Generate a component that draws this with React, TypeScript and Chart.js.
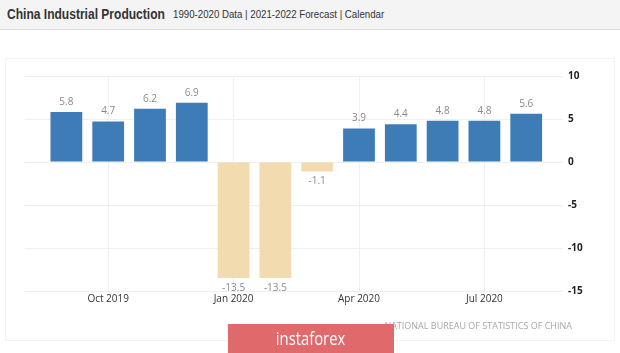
import React, { useEffect, useRef } from "react";
import { Chart, registerables } from "chart.js";

Chart.register(...registerables);

const months = [
  "Sep 2019", "Oct 2019", "Nov 2019", "Dec 2019",
  "Jan 2020", "Feb 2020", "Mar 2020", "Apr 2020",
  "May 2020", "Jun 2020", "Jul 2020", "Aug 2020",
];
const values = [5.8, 4.7, 6.2, 6.9, -13.5, -13.5, -1.1, 3.9, 4.4, 4.8, 4.8, 5.6];
const xTickIndexes = [1, 4, 7, 10];
const yTicks = [10, 5, 0, -5, -10, -15];

const BLUE = "#3d7cb6";
const SAND = "#f3dbb0";

const valueLabels = {
  id: "valueLabels",
  afterDatasetsDraw(chart: any) {
    const ctx = chart.ctx;
    const meta = chart.getDatasetMeta(0);
    ctx.save();
    ctx.font = "10px 'Open Sans'";
    ctx.fillStyle = "#8a8a8a";
    ctx.textAlign = "center";
    ctx.textBaseline = "middle";
    meta.data.forEach((el: any, i: number) => {
      const v = values[i];
      const y = v >= 0 ? el.y - 10 : el.y + 10;
      ctx.fillText(v.toFixed(1), el.x, y);
    });
    ctx.restore();
  },
};

export default function App() {
  const ref = useRef<HTMLCanvasElement | null>(null);

  useEffect(() => {
    if (!ref.current) return;
    const chart = new Chart(ref.current, {
      type: "bar",
      data: {
        datasets: [
          {
            data: values.map((v, i) => ({ x: i, y: v })),
            backgroundColor: values.map((v) => (v >= 0 ? BLUE : SAND)),
            borderWidth: 0,
            categoryPercentage: 1,
            barPercentage: 0.76,
          },
        ],
      },
      options: {
        animation: false,
        responsive: false,
        maintainAspectRatio: false,
        devicePixelRatio: 1,
        layout: { padding: { left: 25, top: 76, right: 0, bottom: 0 } },
        plugins: { legend: { display: false }, tooltip: { enabled: false } },
        scales: {
          x: {
            type: "linear",
            min: -0.99,
            max: 11.88,
            offset: false,
            grid: { offset: false, color: "#efefef", drawTicks: false },
            border: { display: false },
            afterBuildTicks: (scale: any) => {
              scale.ticks = xTickIndexes.map((v) => ({ value: v }));
            },
            afterFit: (scale: any) => {
              scale.height = 62;
            },
            ticks: {
              padding: 2,
              autoSkip: false,
              maxRotation: 0,
              color: "#333",
              font: { family: "'Open Sans'", size: 10 },
              callback: (v: any) => months[v as number] ?? "",
            },
          },
          y: {
            position: "right",
            min: -15,
            max: 10,
            grid: { color: "#efefef", drawTicks: false },
            border: { display: false },
            afterBuildTicks: (scale: any) => {
              scale.ticks = yTicks.map((v) => ({ value: v }));
            },
            afterFit: (scale: any) => {
              scale.width = 57;
            },
            ticks: {
              padding: 5,
              color: "#222",
              font: { family: "'Open Sans'", size: 10, weight: "bold" },
            },
          },
        },
      },
      plugins: [valueLabels],
    });
    return () => chart.destroy();
  }, []);

  return (
    <div
      style={{
        position: "absolute",
        left: 0,
        top: 0,
        width: 620,
        height: 353,
        overflow: "hidden",
        background: "#fff",
      }}
    >
      <div
        style={{
          position: "absolute",
          left: 0,
          top: 0,
          width: 620,
          height: 29,
          background: "#f4f4f4",
          borderBottom: "1px solid #dcdcdc",
        }}
      />
      <div
        style={{
          position: "absolute",
          left: 7,
          top: 6,
          font: "bold 14px 'Liberation Sans', Arial, sans-serif",
          color: "#333",
          whiteSpace: "nowrap",
          transform: "scaleX(0.86)",
          transformOrigin: "0 0",
        }}
      >
        China Industrial Production
      </div>
      <div
        style={{
          position: "absolute",
          left: 173,
          top: 8,
          font: "11px 'Liberation Sans', Arial, sans-serif",
          color: "#333",
          whiteSpace: "nowrap",
          transform: "scaleX(0.88)",
          transformOrigin: "0 0",
        }}
      >
        1990-2020 Data | 2021-2022 Forecast | Calendar
      </div>
      <div
        style={{
          position: "absolute",
          left: 5,
          top: 58,
          width: 608,
          height: 281,
          border: "1px solid #f3f3f3",
        }}
      />
      <canvas
        ref={ref}
        width={620}
        height={353}
        style={{ position: "absolute", left: 0, top: 0, width: 620, height: 353 }}
      />
      <div
        style={{
          position: "absolute",
          right: 48,
          top: 319,
          font: "9px 'Open Sans', sans-serif",
          color: "#a8a8a8",
          whiteSpace: "nowrap",
        }}
      >
        NATIONAL BUREAU OF STATISTICS OF CHINA
      </div>
      <div
        style={{
          position: "absolute",
          left: 228,
          top: 324,
          width: 166,
          height: 29,
          background: "#e06a6b",
          display: "flex",
          alignItems: "center",
          justifyContent: "center",
        }}
      >
        <span
          style={{
            font: "19px 'Open Sans', sans-serif",
            color: "#fff",
            display: "inline-block",
            transform: "scaleX(0.78)",
            lineHeight: "29px",
          }}
        >
          instaforex
        </span>
      </div>
    </div>
  );
}
